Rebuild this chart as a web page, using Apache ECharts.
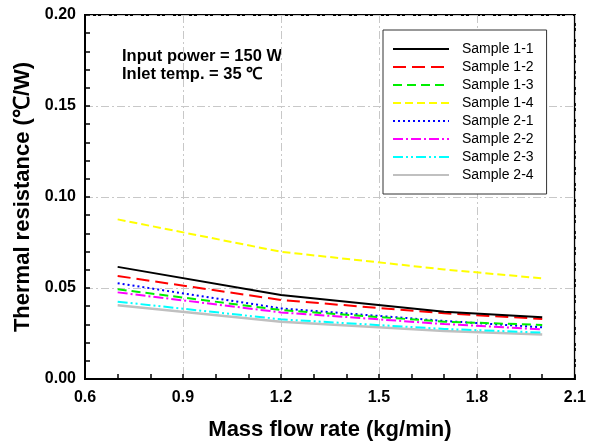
<!DOCTYPE html>
<html><head><meta charset="utf-8">
<script src="https://cdn.jsdelivr.net/npm/echarts@6/dist/echarts.min.js"></script>
<style>html,body{margin:0;padding:0;background:#fff}#c{width:589px;height:446px}</style>
</head><body><div id="c"></div>
<script>
const flowRates = [0.7, 1.2, 1.7, 2.0];
const seriesNames = ['Sample 1-1','Sample 1-2','Sample 1-3','Sample 1-4','Sample 2-1','Sample 2-2','Sample 2-3','Sample 2-4'];
const s11 = [0.0616, 0.0462, 0.0370, 0.0339];
const s12 = [0.0566, 0.0434, 0.0361, 0.0330];
const s13 = [0.0493, 0.0379, 0.0315, 0.0297];
const s14 = [0.0877, 0.0699, 0.0602, 0.0553];
const s21 = [0.0526, 0.0388, 0.0319, 0.0284];
const s22 = [0.0476, 0.0366, 0.0302, 0.0273];
const s23 = [0.0425, 0.0328, 0.0275, 0.0255];
const s24 = [0.0405, 0.0315, 0.0264, 0.0245];
const xTicks = [0.6, 0.9, 1.2, 1.5, 1.8, 2.1];
const yTicks = [0.00, 0.05, 0.10, 0.15, 0.20];
const annotations = ['Input power = 150 W', 'Inlet temp. = 35 \u2103'];

const values = [s11, s12, s13, s14, s21, s22, s23, s24];
const styles = [
  {color:'#000000', type:'solid', width:2},
  {color:'#ff0000', type:[13,6], width:2},
  {color:'#00ee00', type:[9,5], width:2},
  {color:'#ffff00', type:[8,4], width:2},
  {color:'#0000ff', type:[2,3], width:2},
  {color:'#ff00ff', type:[10,3,2,3], width:2},
  {color:'#00ffff', type:[10,3,2,3,2,3], width:2},
  {color:'#c0c0c0', type:'solid', width:2.5}
];
const FONT = 'Arial, "Liberation Sans", sans-serif';
const series = seriesNames.map((n,i)=>({
  name:n, type:'line', symbol:'none', showSymbol:false, animation:false,
  data: flowRates.map((x,j)=>[x, values[i][j]]),
  lineStyle: styles[i], itemStyle:{color:styles[i].color}, z: 10-i
}));
const gridSplit = {show:true, lineStyle:{color:'#c8c8c8', width:1, type:[8,3,2,3]}};
const chart = echarts.init(document.getElementById('c'), null, {renderer:'canvas'});
chart.setOption({
  animation:false,
  backgroundColor:'#fff',
  grid:{left:85, right:12, top:15, bottom:67, show:true, borderColor:'#000', borderWidth:2, backgroundColor:'transparent'},
  xAxis:{type:'value', min:xTicks[0], max:xTicks[xTicks.length-1], interval:0.3,
    name:'Mass flow rate (kg/min)', nameLocation:'middle', nameGap:40,
    nameTextStyle:{fontFamily:FONT, fontWeight:'bold', fontSize:22, color:'#000'},
    axisLine:{show:true, lineStyle:{color:'#000', width:2}},
    axisTick:{show:true, inside:true, length:5, lineStyle:{color:'#000', width:1.5}},
    minorTick:{show:true, splitNumber:3, length:5, lineStyle:{color:'#000', width:1.5}},
    axisLabel:{fontFamily:FONT, fontWeight:'bold', fontSize:16, color:'#000', margin:11,
      formatter:v=>Number(v).toFixed(1)},
    splitLine:gridSplit},
  yAxis:{type:'value', min:yTicks[0], max:yTicks[yTicks.length-1], interval:0.05,
    name:'Thermal resistance (\u2103/W)', nameLocation:'middle', nameGap:51,
    nameTextStyle:{fontFamily:FONT, fontWeight:'bold', fontSize:22, color:'#000'},
    axisLine:{show:true, lineStyle:{color:'#000', width:2}},
    axisTick:{show:true, inside:true, length:5, lineStyle:{color:'#000', width:1.5}},
    minorTick:{show:true, splitNumber:5, length:5, lineStyle:{color:'#000', width:1.5}},
    axisLabel:{fontFamily:FONT, fontWeight:'bold', fontSize:16, color:'#000', margin:9,
      formatter:v=>Number(v).toFixed(2)},
    splitLine:gridSplit},
  legend:{orient:'vertical', left:383, top:30, data:seriesNames,
    itemWidth:56, itemHeight:14, itemGap:4, padding:[12,13,12,9],
    itemStyle:{opacity:0},
    backgroundColor:'#fff', borderColor:'#333', borderWidth:1, borderRadius:0,
    textStyle:{fontFamily:FONT, fontSize:14, color:'#000', padding:[0,0,0,8]},
    selectedMode:false},
  graphic:[
    {type:'text', left:122, top:48, style:{text:annotations[0], font:'bold 16.5px '+FONT, fill:'#000'}},
    {type:'text', left:122, top:66, style:{text:annotations[1], font:'bold 16.5px '+FONT, fill:'#000'}}
  ],
  series: series
});
</script></body></html>
